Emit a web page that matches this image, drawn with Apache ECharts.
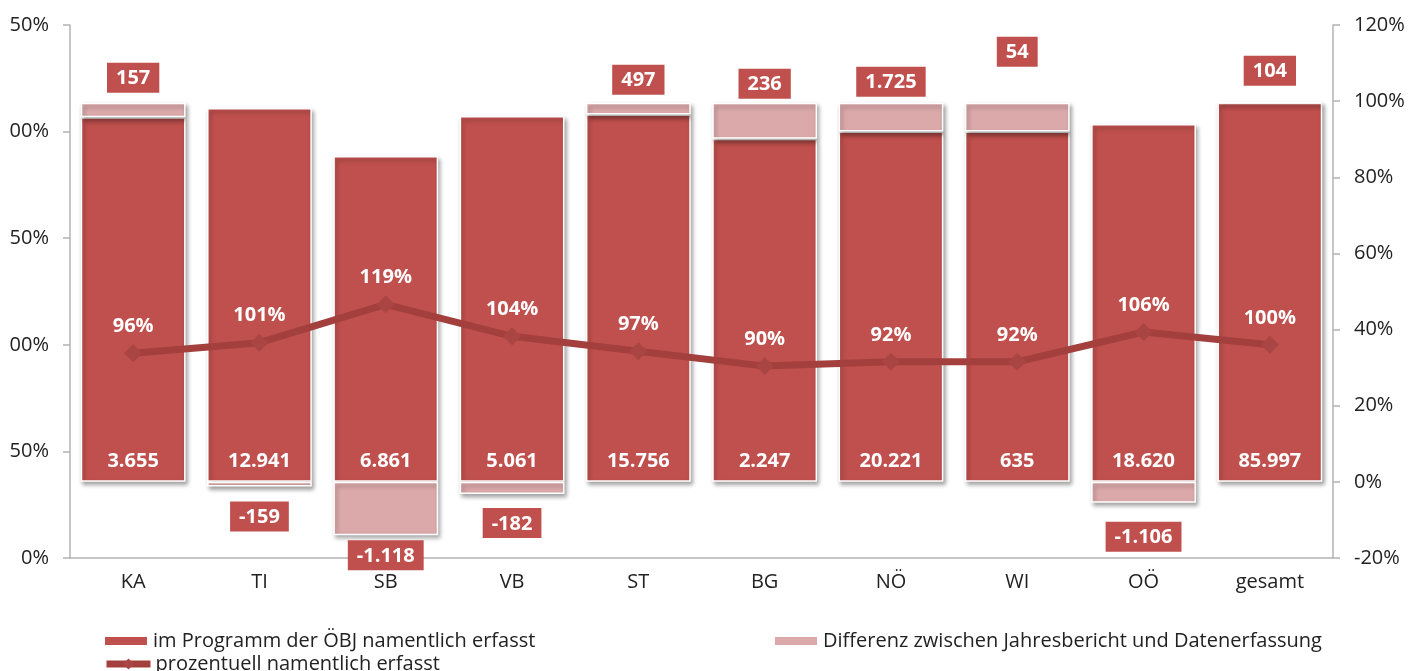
<!DOCTYPE html>
<html>
<head>
<meta charset="utf-8">
<script src="https://cdn.jsdelivr.net/npm/echarts@6/dist/echarts.min.js"></script>
<style>
  html, body { margin: 0; padding: 0; background: #fff; }
  /* the source picture is cropped a few px on the left, cutting the axis labels */
  #frame { position: absolute; left: 9px; top: 0; width: 1399px; height: 671px; overflow: hidden; }
  #chart { position: absolute; left: -9px; top: 0; width: 1408px; height: 671px; }
</style>
</head>
<body>
<div id="frame"><div id="chart"></div></div>
<script>
// categories
const regions = ['KA', 'TI', 'SB', 'VB', 'ST', 'BG', 'NÖ', 'WI', 'OÖ', 'gesamt']

// bar heights in % (right axis)
const namedShare = [95.8, 98.2, 85.6, 96.1, 96.5, 90.1, 92.0, 92.0, 94.0, 99.6]
const diffShare = [3.8, -1.2, -14.0, -3.2, 3.1, 9.5, 7.6, 7.6, -5.5, 0.1]

// counts printed on the bars
const namedCount = [3655, 12941, 6861, 5061, 15756, 2247, 20221, 635, 18620, 85997]
const diffCount = [157, -159, -1118, -182, 497, 236, 1725, 54, -1106, 104]

// line, left axis
const namedPercent = [96, 101, 119, 104, 97, 90, 92, 92, 106, 100]

// label gap of the difference boxes (px), they were placed by hand
const diffLabelGap = [10, 15, 5, 14, 8, 4, 6, 36, 19, 16]

const FONT = 'Open Sans'
const DARK = '#c0504d'
const LIGHT = '#dba9aa'
const LINE = '#a3403e'

const names = [
  'im Programm der ÖBJ namentlich erfasst',
  'Differenz zwischen Jahresbericht und Datenerfassung',
  'prozentuell namentlich erfasst'
]

function fmtNum(n) {
  const s = String(Math.abs(n)).replace(/\B(?=(\d{3})+(?!\d))/g, '.')
  return (n < 0 ? '-' : '') + s
}

const barShadow = {
  borderColor: '#fff',
  borderWidth: 1.5,
  shadowColor: 'rgba(0, 0, 0, 0.35)',
  shadowBlur: 4,
  shadowOffsetX: 2,
  shadowOffsetY: 3
}

const axisLineStyle = { color: '#b3b3b3', width: 1.5 }
const legendText = { fontFamily: FONT, fontSize: 20, color: '#222' }
const tickLabel = { margin: 21, fontSize: 20, color: '#222', fontFamily: FONT, formatter: '{value}%' }

const chart = echarts.init(document.getElementById('chart'))
chart.setOption({
  animation: false,
  backgroundColor: '#fff',
  textStyle: { fontFamily: FONT },
  grid: { left: 70, right: 75, top: 25, bottom: 113, outerBoundsMode: 'none', containLabel: false },
  legend: [
    {
      left: 103, top: 631, padding: 0, itemWidth: 44, itemHeight: 10, itemGap: 0,
      textStyle: legendText, data: [{ name: names[0], icon: 'rect' }]
    },
    {
      left: 773, top: 631, padding: 0, itemWidth: 44, itemHeight: 10, itemGap: 0,
      textStyle: legendText, data: [{ name: names[1], icon: 'rect' }]
    },
    {
      left: 103, top: 654, padding: 0, itemWidth: 44, itemHeight: 14, itemGap: 0,
      textStyle: legendText,
      lineStyle: { width: 7 },
      data: [names[2]]
    }
  ],
  xAxis: {
    type: 'category',
    data: regions,
    axisLine: { lineStyle: axisLineStyle },
    axisTick: { length: 7, lineStyle: axisLineStyle },
    axisLabel: { margin: 14, fontSize: 20, color: '#222', fontFamily: FONT }
  },
  yAxis: [
    {
      type: 'value',
      min: 0,
      max: 250,
      interval: 50,
      splitLine: { show: false },
      axisLine: { show: true, lineStyle: axisLineStyle },
      axisTick: { show: true, length: 7, lineStyle: axisLineStyle },
      axisLabel: tickLabel
    },
    {
      type: 'value',
      min: -20,
      max: 120,
      interval: 20,
      splitLine: { show: false },
      axisLine: { show: true, lineStyle: axisLineStyle },
      axisTick: { show: true, length: 7, lineStyle: axisLineStyle },
      axisLabel: tickLabel
    }
  ],
  series: [
    {
      name: names[0],
      type: 'bar',
      yAxisIndex: 1,
      stack: 'share',
      barWidth: '83%',
      itemStyle: Object.assign({ color: DARK }, barShadow),
      label: {
        show: true,
        position: 'insideBottom',
        distance: 11,
        color: '#fff',
        fontWeight: 'bold',
        fontSize: 20,
        formatter: (p) => fmtNum(namedCount[p.dataIndex])
      },
      data: namedShare
    },
    {
      name: names[1],
      type: 'bar',
      yAxisIndex: 1,
      stack: 'share',
      itemStyle: Object.assign({ color: LIGHT }, barShadow),
      data: diffShare.map((v, i) => ({
        value: v,
        label: {
          show: true,
          position: v < 0 ? 'bottom' : 'top',
          distance: diffLabelGap[i],
          color: '#fff',
          fontWeight: 'bold',
          fontSize: 20,
          backgroundColor: DARK,
          padding: [6, 9, 4, 9],
          formatter: () => fmtNum(diffCount[i])
        }
      }))
    },
    {
      name: names[2],
      type: 'line',
      yAxisIndex: 0,
      z: 5,
      symbol: 'diamond',
      symbolSize: 18,
      lineStyle: { color: LINE, width: 7 },
      itemStyle: { color: '#a94542' },
      label: {
        show: true,
        position: 'top',
        distance: 8,
        color: '#fff',
        fontWeight: 'bold',
        fontSize: 20,
        formatter: '{c}%'
      },
      data: namedPercent
    }
  ]
})
</script>
</body>
</html>
